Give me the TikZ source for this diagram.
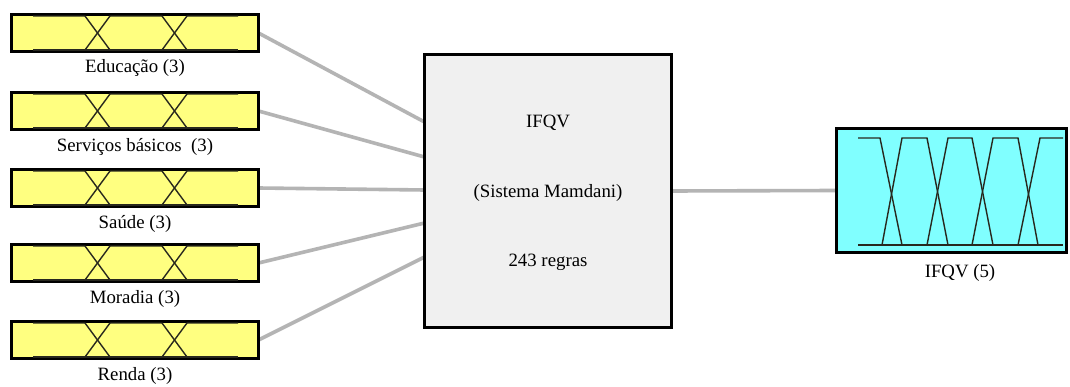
\documentclass[tikz,border=0pt]{standalone}
\usepackage{fontspec}
\setmainfont{Liberation Serif}
\newfontfamily\labelfont{Liberation Serif}
\usetikzlibrary{calc,backgrounds}
\definecolor{inyellow}{RGB}{255,255,128}
\definecolor{outcyan}{RGB}{128,255,255}
\definecolor{sysgray}{RGB}{240,240,240}
\definecolor{linkgray}{RGB}{180,180,180}
\definecolor{mfline}{RGB}{40,40,30}
\begin{document}
\begin{tikzpicture}[x=1pt,y=-1pt,
  inbox/.style={draw=black, line width=2.6pt, fill=inyellow,
    minimum width=247pt, minimum height=37pt, inner sep=0pt, outer sep=0pt},
  outbox/.style={draw=black, line width=2.6pt, fill=outcyan,
    minimum width=230pt, minimum height=124pt, inner sep=0pt, outer sep=0pt},
  sysbox/.style={draw=black, line width=2.6pt, fill=sysgray,
    minimum width=247pt, minimum height=273pt, inner sep=0pt, outer sep=0pt},
  lbl/.style={font=\labelfont\fontsize{18.8}{21}\selectfont, inner sep=0pt},
  link/.style={draw=linkgray, line width=3.6pt},
  mf/.style={draw=mfline, line width=1.4pt, line join=miter}]
\useasboundingbox (0,0) rectangle (1070,387);

% input variables
\node[inbox] (edu) at (135,33) {};
\node[inbox] (serv) at (135,111) {};
\node[inbox] (sau) at (135,188) {};
\node[inbox] (mor) at (135,263) {};
\node[inbox] (ren) at (135,340) {};

\node[lbl] (edulbl) at (135,68) {Educação (3)};
\node[lbl] (servlbl) at (135,147) {Serviços básicos~ (3)};
\node[lbl] (saulbl) at (135,224) {Saúde (3)};
\node[lbl] (morlbl) at (135,299) {Moradia (3)};
\node[lbl] (renlbl) at (135,376) {Renda (3)};

% three membership functions in each input
\foreach \n in {edu,serv,sau,mor,ren}{
  \begin{scope}[shift={(\n.center)}]
    \draw[mf] (-102,-17) -- (-50,-17) -- (-25,17);
    \draw[mf] (-50,17) -- (-25,-17) -- (27,-17) -- (52,17);
    \draw[mf] (27,17) -- (52,-17) -- (103,-17);
    \draw[mf] (-102,17) -- (103,17);
  \end{scope}
}

% inference system
\node[sysbox] (sys) at (548,191) {};
\node[lbl] (sysname) at (548,123) {IFQV};
\node[lbl] (systype) at (548,193) {(Sistema Mamdani)};
\node[lbl] (sysrules) at (548,262) {243 regras};

% output variable
\node[outbox] (out) at (951.5,190.5) {};
\node[lbl] (outlbl) at (960,273) {IFQV (5)};
\begin{scope}[shift={(out.center)}]
  \draw[mf] (-93.5,-52.5) -- (-71.5,-52.5) -- (-49.5,54.5);
  \draw[mf] (-69.5,54.5) -- (-49.5,-52.5) -- (-24.5,-52.5) -- (-3.5,54.5);
  \draw[mf] (-24.5,54.5) -- (-3.5,-52.5) -- (20.5,-52.5) -- (41.5,54.5);
  \draw[mf] (20.5,54.5) -- (41.5,-52.5) -- (66.5,-52.5) -- (86.5,54.5);
  \draw[mf] (66.5,54.5) -- (88.5,-52.5) -- (111.5,-52.5);
  \draw[mf] (-93.5,54.5) -- (111.5,54.5);
\end{scope}

% connectors
\begin{pgfonlayer}{background}
  \fill[white] (0,0) rectangle (1070,387);
  \draw[link] (edu.east) -- ($(sys.west)+(0,-69)$);
  \draw[link] (serv.east) -- ($(sys.west)+(0,-34)$);
  \draw[link] (sau.east) -- ($(sys.west)+(0,-1)$);
  \draw[link] (mor.east) -- ($(sys.west)+(0,32)$);
  \draw[link] (ren.east) -- ($(sys.west)+(0,66)$);
  \draw[link] (sys.east) -- (out.west);
\end{pgfonlayer}
\end{tikzpicture}
\end{document}
